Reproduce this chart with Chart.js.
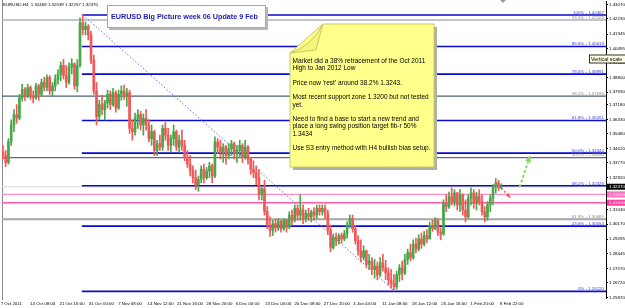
<!DOCTYPE html>
<html>
<head>
<meta charset="utf-8">
<script src="https://cdn.jsdelivr.net/npm/chart.js@4.4.1/dist/chart.umd.min.js"></script>
<style>
  html, body { margin: 0; padding: 0; background: #fff; }
  canvas { display: block; }
</style>
</head>
<body>
<canvas id="mt4Chart" width="625" height="308"></canvas>
<script>
// ------------------------------
// - EURUSD H4  -
// ------------------------------
// one candle per half trading day (3 H4 bars each)
const opens = [
  1.3440,1.3420,1.3380,1.3500,1.3600,1.3660,1.3640,1.3760,1.3810,1.3770,
  1.3820,1.3770,1.3760,1.3830,1.3780,1.3850,1.3820,1.3880,1.3800,1.3830,
  1.3870,1.3900,1.3950,1.3890,1.3850,1.3940,1.3960,1.3830,1.3950,1.4200,
  1.4160,1.4180,1.4130,1.3980,1.3800,1.3650,1.3720,1.3690,1.3730,1.3780,
  1.3720,1.3790,1.3700,1.3780,1.3800,1.3770,1.3790,1.3580,1.3560,1.3640,
  1.3660,1.3600,1.3640,1.3600,1.3520,1.3560,1.3450,1.3490,1.3470,1.3580,
  1.3540,1.3480,1.3520,1.3560,1.3470,1.3510,1.3480,1.3410,1.3370,1.3330,
  1.3290,1.3250,1.3280,1.3340,1.3290,1.3330,1.3360,1.3300,1.3500,1.3470,
  1.3440,1.3470,1.3420,1.3460,1.3490,1.3430,1.3450,1.3480,1.3410,1.3470,
  1.3400,1.3340,1.3320,1.3290,1.3190,1.3225,1.3090,1.3010,1.2980,1.3020,
  1.2995,1.3035,1.2990,1.3040,1.3000,1.3070,1.3040,1.3110,1.3070,1.3100,
  1.3050,1.3080,1.3060,1.3090,1.3070,1.3110,1.3090,1.3110,1.3080,1.2980,
  1.2880,1.2940,1.2920,1.2950,1.2930,1.2960,1.3010,1.3050,1.2990,1.2920,
  1.2860,1.2820,1.2860,1.2780,1.2800,1.2750,1.2770,1.2720,1.2790,1.2760,
  1.2730,1.2690,1.2670,1.2650,1.2720,1.2760,1.2730,1.2810,1.2850,1.2820,
  1.2900,1.2870,1.2930,1.2900,1.2950,1.2930,1.3010,1.2990,1.3040,1.2970,
  1.2960,1.3140,1.3120,1.3180,1.3150,1.3200,1.3130,1.3190,1.3100,1.3060,
  1.3170,1.3200,1.3140,1.3180,1.3150,1.3090,1.3060,1.3130,1.3170,1.3240,
  1.3260,1.3230
];
const highs = [
  1.3480,1.3450,1.3520,1.3630,1.3690,1.3720,1.3780,1.3840,1.3820,1.3840,
  1.3830,1.3800,1.3845,1.3840,1.3870,1.3880,1.3895,1.3890,1.3850,1.3895,
  1.3925,1.3970,1.3985,1.3950,1.3965,1.3990,1.3965,1.3985,1.4230,1.4247,
  1.4205,1.4190,1.4150,1.4010,1.3850,1.3745,1.3775,1.3745,1.3805,1.3800,
  1.3815,1.3800,1.3805,1.3830,1.3835,1.3815,1.3805,1.3630,1.3670,1.3690,
  1.3680,1.3665,1.3690,1.3630,1.3600,1.3570,1.3510,1.3540,1.3600,1.3615,
  1.3580,1.3540,1.3600,1.3570,1.3540,1.3570,1.3510,1.3450,1.3420,1.3360,
  1.3335,1.3300,1.3360,1.3370,1.3350,1.3380,1.3370,1.3530,1.3520,1.3510,
  1.3490,1.3480,1.3490,1.3510,1.3500,1.3480,1.3510,1.3490,1.3510,1.3480,
  1.3410,1.3390,1.3360,1.3340,1.3235,1.3275,1.3120,1.3060,1.3040,1.3045,
  1.3050,1.3040,1.3050,1.3045,1.3090,1.3100,1.3130,1.3130,1.3190,1.3130,
  1.3100,1.3110,1.3100,1.3115,1.3130,1.3130,1.3130,1.3130,1.3100,1.3010,
  1.2960,1.2965,1.2960,1.2965,1.2980,1.3030,1.3070,1.3070,1.3010,1.2950,
  1.2925,1.2890,1.2865,1.2840,1.2820,1.2810,1.2795,1.2820,1.2840,1.2805,
  1.2760,1.2750,1.2720,1.2740,1.2780,1.2800,1.2840,1.2870,1.2900,1.2925,
  1.2935,1.2955,1.2965,1.2975,1.2985,1.3030,1.3040,1.3055,1.3050,1.2995,
  1.3160,1.3190,1.3205,1.3230,1.3220,1.3205,1.3220,1.3195,1.3160,1.3190,
  1.3230,1.3220,1.3205,1.3220,1.3190,1.3120,1.3150,1.3190,1.3250,1.3285,
  1.3275,1.3254
];
const lows = [
  1.3400,1.3355,1.3370,1.3480,1.3560,1.3610,1.3630,1.3740,1.3745,1.3760,
  1.3750,1.3730,1.3750,1.3745,1.3770,1.3800,1.3800,1.3780,1.3770,1.3800,
  1.3840,1.3860,1.3870,1.3820,1.3840,1.3900,1.3810,1.3795,1.3940,1.4130,
  1.4130,1.4100,1.3960,1.3780,1.3600,1.3630,1.3660,1.3630,1.3700,1.3690,
  1.3710,1.3675,1.3690,1.3745,1.3750,1.3710,1.3550,1.3510,1.3540,1.3580,
  1.3570,1.3540,1.3570,1.3500,1.3480,1.3420,1.3420,1.3450,1.3450,1.3510,
  1.3450,1.3440,1.3480,1.3450,1.3440,1.3450,1.3390,1.3350,1.3300,1.3260,
  1.3220,1.3210,1.3260,1.3260,1.3280,1.3290,1.3260,1.3290,1.3430,1.3400,
  1.3380,1.3370,1.3400,1.3420,1.3400,1.3380,1.3410,1.3380,1.3400,1.3370,
  1.3310,1.3290,1.3250,1.3160,1.3160,1.3070,1.2990,1.2945,1.2950,1.2970,
  1.2980,1.2970,1.2980,1.2970,1.2990,1.3010,1.3030,1.3040,1.3040,1.3020,
  1.3030,1.3040,1.3030,1.3040,1.3050,1.3070,1.3070,1.3050,1.2955,1.2855,
  1.2870,1.2890,1.2900,1.2905,1.2920,1.2935,1.2995,1.2970,1.2900,1.2835,
  1.2795,1.2805,1.2760,1.2750,1.2720,1.2700,1.2690,1.2710,1.2740,1.2690,
  1.2660,1.2640,1.2624,1.2635,1.2680,1.2690,1.2720,1.2780,1.2800,1.2810,
  1.2850,1.2860,1.2875,1.2890,1.2910,1.2930,1.2975,1.2985,1.2950,1.2925,
  1.2950,1.3090,1.3110,1.3130,1.3125,1.3100,1.3090,1.3070,1.3030,1.3050,
  1.3130,1.3110,1.3100,1.3130,1.3070,1.3030,1.3040,1.3090,1.3130,1.3200,
  1.3215,1.3226
];
const closes = [
  1.3420,1.3380,1.3500,1.3600,1.3660,1.3640,1.3760,1.3810,1.3770,1.3820,
  1.3770,1.3760,1.3830,1.3780,1.3850,1.3820,1.3880,1.3800,1.3830,1.3870,
  1.3900,1.3950,1.3890,1.3850,1.3940,1.3960,1.3830,1.3950,1.4200,1.4160,
  1.4180,1.4130,1.3980,1.3800,1.3650,1.3720,1.3690,1.3730,1.3780,1.3720,
  1.3790,1.3700,1.3780,1.3800,1.3770,1.3790,1.3580,1.3560,1.3640,1.3660,
  1.3600,1.3640,1.3600,1.3520,1.3560,1.3450,1.3490,1.3470,1.3580,1.3540,
  1.3480,1.3520,1.3560,1.3470,1.3510,1.3480,1.3410,1.3370,1.3330,1.3290,
  1.3250,1.3280,1.3340,1.3290,1.3330,1.3360,1.3300,1.3500,1.3470,1.3440,
  1.3470,1.3420,1.3460,1.3490,1.3430,1.3450,1.3480,1.3410,1.3470,1.3400,
  1.3340,1.3320,1.3290,1.3190,1.3225,1.3090,1.3010,1.2980,1.3020,1.2995,
  1.3035,1.2990,1.3040,1.3000,1.3070,1.3040,1.3110,1.3070,1.3100,1.3050,
  1.3080,1.3060,1.3090,1.3070,1.3110,1.3090,1.3110,1.3080,1.2980,1.2880,
  1.2940,1.2920,1.2950,1.2930,1.2960,1.3010,1.3050,1.2990,1.2920,1.2860,
  1.2820,1.2860,1.2780,1.2800,1.2750,1.2770,1.2720,1.2790,1.2760,1.2730,
  1.2690,1.2670,1.2650,1.2720,1.2760,1.2730,1.2810,1.2850,1.2820,1.2900,
  1.2870,1.2930,1.2900,1.2950,1.2930,1.3010,1.2990,1.3040,1.2970,1.2960,
  1.3140,1.3120,1.3180,1.3150,1.3200,1.3130,1.3190,1.3100,1.3060,1.3170,
  1.3200,1.3140,1.3180,1.3150,1.3090,1.3060,1.3130,1.3170,1.3240,1.3260,
  1.3230,1.3237
];

// time axis (H4 bar number -> label)
const timeLabels = ['7 Oct 2011','14 Oct 08:00','21 Oct 16:00','31 Oct 00:00','7 Nov 08:00',
  '14 Nov 12:00','21 Nov 16:00','28 Nov 20:00','6 Dec 00:00','13 Dec 04:00','20 Dec 08:00',
  '27 Dec 20:00','4 Jan 04:00','11 Jan 08:00','18 Jan 12:00','25 Jan 16:00','1 Feb 20:00','8 Feb 22:00'];
const timeLabelBars = [0,32,64,96,128,160,192,224,256,288,320,352,384,416,448,480,512,544];

// price axis labels
const priceTicks = [1.43070,1.42230,1.41345,1.40495,1.39660,1.38800,1.37930,1.37180,1.36330,
  1.35480,1.34620,1.33770,1.32920,1.31030,1.30170,1.29295,1.28445,1.27570,1.26720,1.25870];

// fibo retracement Oct 2011 high -> Jan 2012 low (blue)
const fibLevels = ['0%','23.6%','38.2%','50.0%','61.8%','78.6%','88.6%','100%'];
const fibPrices = [1.26220,1.30054,1.32426,1.34344,1.36261,1.38991,1.40613,1.42467];
const fibStartBar = 87, fibEndBar = 428;

// older, bigger fibo (grey)
const oldFibLevels = ['23.6%','38.2%','50.0%','61.8%'];
const oldFibPrices = [1.42169,1.37696,1.34080,1.30465];

// support zone (pink) and last bid
const zonePrices = [1.31920, 1.31430];
const lastPrice = 1.32370;
const infoLine = 'EURUSD,H4  1.32468 1.32539 1.32257 1.32370';
const titleText = 'EURUSD Big Picture week 06 Update 9 Feb';
const noteLines = [
  ['Market did a 38% retracement of the Oct 2011', 'High to Jan 2012 Low'],
  ["Price now 'rest' around 38.2% 1.3243."],
  ['Most recent support zone 1.3200 but not tested', 'yet.'],
  ['Need to find a base to start a new trend and', 'place a long swing position target fib-r 50%', '1.3434'],
  ['Use S3 entry method with H4 bullish bias setup.']
];

// ------------------
// - Chart settings -
// ------------------
const Y_MIN = 1.25830, Y_MAX = 1.43287, X_MAX = 658.1;
const FONT = '"Liberation Sans", Arial, sans-serif';
const bull = '#48a848', bear = '#f25858';

const candleBars = closes.map((c, k) => 3 * k + 1);
const colors = closes.map((c, i) => c >= opens[i] ? bull : bear);
const wickData = highs.map((h, i) => ({ x: candleBars[i], y: [lows[i], h] }));
const bodyData = opens.map((o, i) => ({ x: candleBars[i], y: [o, closes[i]] }));

const greenArrow = { from: [564, 1.3234], to: [575, 1.3412] };
const redArrow = { from: [538, 1.3262], to: [553, 1.3178] };

function seg(ctx, x1, y1, x2, y2, color, width, dash) {
  ctx.beginPath();
  ctx.strokeStyle = color;
  ctx.lineWidth = width;
  ctx.setLineDash(dash || []);
  ctx.moveTo(x1, y1);
  ctx.lineTo(x2, y2);
  ctx.stroke();
  ctx.setLineDash([]);
}

function arrow(ctx, x1, y1, x2, y2, color, width, dash, head) {
  seg(ctx, x1, y1, x2, y2, color, width, dash);
  const ang = Math.atan2(y2 - y1, x2 - x1);
  ctx.beginPath();
  ctx.fillStyle = color;
  ctx.moveTo(x2 + Math.cos(ang) * 2, y2 + Math.sin(ang) * 2);
  ctx.lineTo(x2 + Math.cos(ang + 2.6) * head, y2 + Math.sin(ang + 2.6) * head);
  ctx.lineTo(x2 + Math.cos(ang - 2.6) * head, y2 + Math.sin(ang - 2.6) * head);
  ctx.closePath();
  ctx.fill();
}

const overlay = {
  id: 'overlay',
  beforeDraw(chart) {
    const ctx = chart.ctx;
    ctx.save();
    ctx.fillStyle = '#fff';
    ctx.fillRect(0, 0, chart.width, chart.height);
    ctx.restore();
  },
  beforeDatasetsDraw(chart) {
    const { ctx, chartArea: a, scales: { x, y } } = chart;
    ctx.save();
    seg(ctx, 2.5, 0, 2.5, 300, '#8a8a8a', 1);
    // bid line
    let yy = y.getPixelForValue(lastPrice);
    seg(ctx, a.left, yy, a.right, yy, '#dcdcdc', 1);
    // grey fibo
    const oldCols = ['#aab4be', '#4e6070', '#5b6d7c', '#a4a6a8'];
    oldFibPrices.forEach((p, i) => {
      yy = y.getPixelForValue(p);
      seg(ctx, a.left, yy, a.right, yy, oldCols[i], i === 3 ? 2 : 1.4);
    });
    // zone
    seg(ctx, a.left, y.getPixelForValue(zonePrices[0]), a.right, y.getPixelForValue(zonePrices[0]), '#ff8cc8', 1.3);
    seg(ctx, a.left, y.getPixelForValue(zonePrices[1]), a.right, y.getPixelForValue(zonePrices[1]), '#ff5aa8', 1.3);
    // blue fibo
    const xs = x.getPixelForValue(fibStartBar);
    fibPrices.forEach(p => {
      yy = y.getPixelForValue(p);
      seg(ctx, xs, yy, a.right, yy, '#0a0ad0', 1.6);
    });
    seg(ctx, x.getPixelForValue(fibStartBar + 1), y.getPixelForValue(fibPrices[7]),
      x.getPixelForValue(fibEndBar), y.getPixelForValue(fibPrices[0]), '#6a6aff', 1, [1.5, 2]);
    ctx.restore();
  },
  afterDatasetsDraw(chart) {
    const { ctx, scales: { x, y } } = chart;
    ctx.save();
    ctx.textBaseline = 'alphabetic';
    ctx.textAlign = 'right';
    ctx.font = '4.4px ' + FONT;
    ctx.fillStyle = '#3c3cd4';
    fibPrices.forEach((p, i) => {
      ctx.fillText(fibLevels[i] + ' - ' + p.toFixed(5), 604, y.getPixelForValue(p) - 1.2);
    });
    ctx.fillStyle = '#8c8c8c';
    oldFibPrices.forEach((p, i) => {
      ctx.fillText(oldFibLevels[i] + ' - ' + p.toFixed(5), 604, y.getPixelForValue(p) - 1.2);
    });

    // arrows
    arrow(ctx, x.getPixelForValue(greenArrow.from[0]), y.getPixelForValue(greenArrow.from[1]),
      x.getPixelForValue(greenArrow.to[0]), y.getPixelForValue(greenArrow.to[1]), '#94d46e', 2, [3, 2], 6);
    arrow(ctx, x.getPixelForValue(redArrow.from[0]), y.getPixelForValue(redArrow.from[1]),
      x.getPixelForValue(redArrow.to[0]), y.getPixelForValue(redArrow.to[1]), '#f46060', 1.5, [2, 2], 4);

    // title box
    ctx.fillStyle = '#b8b8b8';
    ctx.fillRect(109, 7, 159, 23);
    ctx.fillStyle = '#fff';
    ctx.fillRect(107, 5, 159, 23);
    ctx.strokeStyle = '#a8a8a8';
    ctx.lineWidth = 1;
    ctx.strokeRect(107.5, 5.5, 158, 22);
    ctx.textAlign = 'left';
    ctx.textBaseline = 'middle';
    ctx.font = 'bold 7.2px ' + FONT;
    ctx.fillStyle = '#1c1cae';
    ctx.fillText(titleText, 111, 17);

    // sticky note
    const note = [[290, 53], [323, 24], [434, 24], [434, 167], [290, 167]];
    ctx.beginPath();
    note.forEach((p, i) => i ? ctx.lineTo(p[0] + 3, p[1] + 3) : ctx.moveTo(p[0] + 3, p[1] + 3));
    ctx.closePath();
    ctx.fillStyle = '#b0b0a4';
    ctx.fill();
    ctx.beginPath();
    note.forEach((p, i) => i ? ctx.lineTo(p[0], p[1]) : ctx.moveTo(p[0], p[1]));
    ctx.closePath();
    ctx.fillStyle = '#ffff8c';
    ctx.fill();
    ctx.strokeStyle = '#c8c864';
    ctx.stroke();
    ctx.beginPath();
    ctx.moveTo(290, 53);
    ctx.quadraticCurveTo(312, 46, 323, 24);
    ctx.lineTo(316, 50);
    ctx.closePath();
    ctx.fillStyle = '#f4f47a';
    ctx.fill();
    ctx.strokeStyle = '#c8c864';
    ctx.stroke();

    ctx.fillStyle = '#000';
    ctx.font = '6.5px ' + FONT;
    let ty = 61;
    noteLines.forEach(par => {
      par.forEach(line => { ctx.fillText(line, 292.5, ty); ty += 7.3; });
      ty += 7.3;
    });

    ctx.font = '4.4px ' + FONT;
    ctx.fillText(infoLine, 3, 5.2);
    ctx.restore();
  },
  afterDraw(chart) {
    const { ctx, scales: { y } } = chart;
    ctx.save();
    ctx.font = '4.4px ' + FONT;
    ctx.textBaseline = 'middle';
    ctx.textAlign = 'left';
    const boxes = [[lastPrice, '#000'], [zonePrices[0], '#ff6cb8'], [zonePrices[1], '#ff3c9c']];
    boxes.forEach(([p, bg]) => {
      const yy = y.getPixelForValue(p);
      ctx.fillStyle = bg;
      ctx.fillRect(607, yy - 3, 18, 6);
      ctx.fillStyle = '#fff';
      ctx.fillText(p.toFixed(5), 609, yy + 0.3);
    });
    // tooltip over the scale
    ctx.fillStyle = '#ffffe1';
    ctx.fillRect(589, 54.5, 36, 8.5);
    ctx.strokeStyle = '#000';
    ctx.lineWidth = 0.8;
    ctx.strokeRect(589.5, 55, 36, 8);
    ctx.fillStyle = '#000';
    ctx.font = '5.3px ' + FONT;
    ctx.fillText('Vertical scale', 591, 59.2);
    // chart shift marker
    ctx.fillStyle = '#9a9a9a';
    ctx.beginPath();
    ctx.moveTo(500, 0); ctx.lineTo(506, 0); ctx.lineTo(503, 3);
    ctx.closePath();
    ctx.fill();
    ctx.restore();
  }
};

new Chart(document.getElementById('mt4Chart'), {
  type: 'bar',
  data: {
    datasets: [
      { data: wickData, backgroundColor: colors, barThickness: 1, grouped: false, borderWidth: 0 },
      { data: bodyData, backgroundColor: colors, barThickness: 2, grouped: false, borderWidth: 0, minBarLength: 1 }
    ]
  },
  options: {
    responsive: false,
    animation: false,
    events: [],
    devicePixelRatio: 1,
    layout: { padding: { left: 2, top: 1, right: 0, bottom: 0 } },
    plugins: { legend: { display: false }, tooltip: { enabled: false } },
    scales: {
      x: {
        type: 'linear', min: 0, max: X_MAX, offset: false,
        grid: { display: false, drawTicks: false },
        border: { display: false },
        afterBuildTicks: s => { s.ticks = timeLabelBars.map(v => ({ value: v })); },
        afterFit: s => { s.height = 10; s.paddingLeft = 0; s.paddingRight = 0; },
        ticks: {
          autoSkip: false, maxRotation: 0, minRotation: 0, align: 'start', labelOffset: -1.3, padding: 3,
          font: { family: FONT, size: 4.4 }, color: '#000',
          callback: (v, i) => timeLabels[i]
        }
      },
      y: {
        position: 'right', min: Y_MIN, max: Y_MAX,
        grid: { drawOnChartArea: false, drawTicks: true, tickLength: 2, color: '#000' },
        border: { display: true, color: '#000', width: 1 },
        afterBuildTicks: s => { s.ticks = priceTicks.map(v => ({ value: v })); },
        afterFit: s => { s.width = 19; s.paddingTop = 0; s.paddingBottom = 0; },
        ticks: {
          padding: 1, font: { family: FONT, size: 4.4 }, color: '#000',
          callback: v => v.toFixed(5)
        }
      }
    }
  },
  plugins: [overlay]
});
</script>
</body>
</html>
